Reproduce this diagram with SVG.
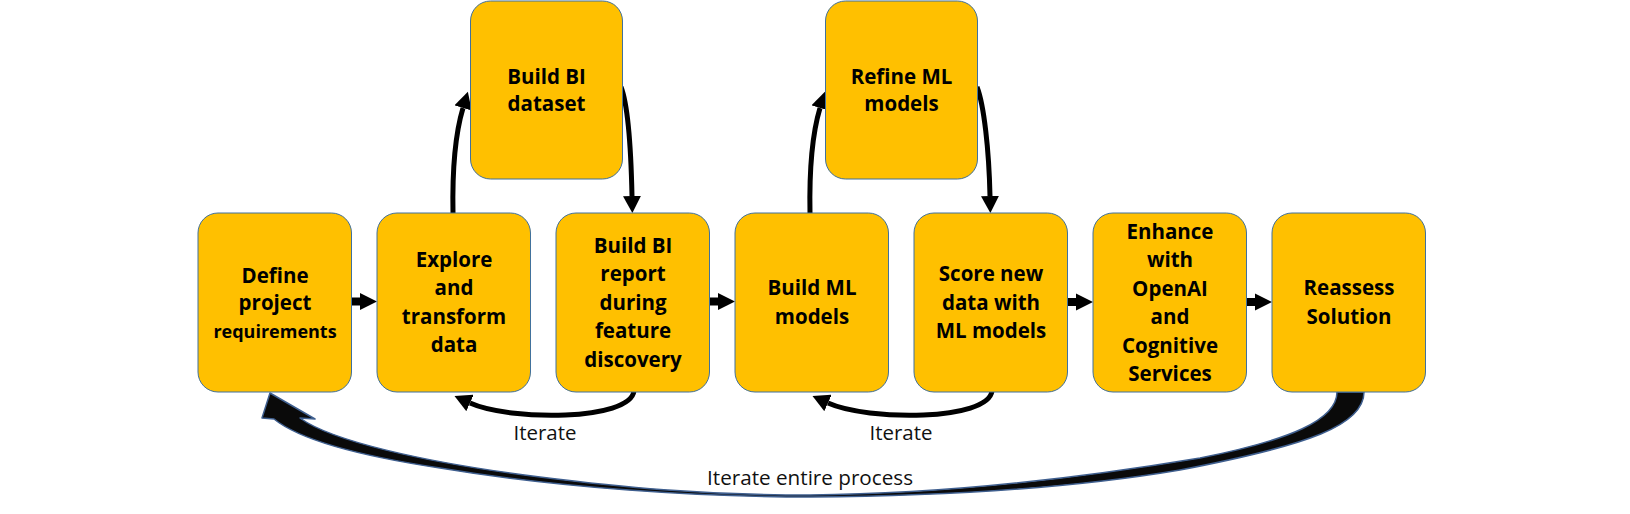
<svg xmlns="http://www.w3.org/2000/svg" width="1630" height="514" viewBox="0 0 1630 514">
<style>
.box{fill:#FFC000;stroke:#41719C;stroke-width:1}
.t{font-family:"Open Sans","Liberation Sans",sans-serif;font-weight:700;font-size:20.5px;fill:#000;text-anchor:middle}
.s{font-size:18px}
.lbl{font-family:"Open Sans","Liberation Sans",sans-serif;font-size:19.5px;fill:#111;text-anchor:middle}
.ln{fill:none;stroke:#000;stroke-width:5;marker-end:url(#ah)}
.ha{fill:#000}
.big{fill:#0a0a0a;stroke:#3F5F8F;stroke-width:1.5;stroke-linejoin:round}
</style>
<defs>
<marker id="ah" markerUnits="userSpaceOnUse" markerWidth="18" markerHeight="18" refX="0" refY="9" orient="auto" viewBox="0 0 18 18">
<path d="M0,0 L17,9 L0,18 Z" fill="#000"/>
</marker>
</defs>
<rect width="1630" height="514" fill="#fff"/>
<g id="connectors">
<path class="big" d="M1364,392 C1364,425 1310,445 1180,470 C1080,487 950,496 810,497 C700,497 560,488 440,468 C360,456 300,440 274,419 L262,418 L270,393 L315,419 L300,418 C330,440 420,462 540,477 C620,487 700,495 810,495 C950,494 1080,478 1200,458 C1290,440 1337,420 1337,392 Z"/>
<path class="ln" d="M453,213 C452,160 457,128 463,108"/>
<path class="ln" d="M621,87 C628,105 631,150 632,196"/>
<path class="ln" d="M810,213 C809,160 814,128 820,108"/>
<path class="ln" d="M977,87 C984,105 989,150 990,196"/>
<path class="ln" d="M634,391 C630,421 510,421 470,403"/>
<path class="ln" d="M992,391 C988,421 868,421 828,403"/>
<path class="ha" d="M351.5,297.5 L360,297.5 L360,293 L377,301.5 L360,310 L360,305.5 L351.5,305.5 Z"/>
<path class="ha" d="M709.5,297.5 L718,297.5 L718,293 L735,301.5 L718,310 L718,305.5 L709.5,305.5 Z"/>
<path class="ha" d="M1067.5,298 L1076,298 L1076,293.5 L1093,302 L1076,310.5 L1076,306 L1067.5,306 Z"/>
<path class="ha" d="M1246.5,298 L1255,298 L1255,293.5 L1272,302 L1255,310.5 L1255,306 L1246.5,306 Z"/>
<text class="lbl" x="545" y="439.5" textLength="63" lengthAdjust="spacingAndGlyphs">Iterate</text>
<text class="lbl" x="901" y="439.5" textLength="63" lengthAdjust="spacingAndGlyphs">Iterate</text>
<text class="lbl" x="810" y="484.5" textLength="206" lengthAdjust="spacingAndGlyphs">Iterate entire process</text>
</g>
<g id="n1">
<rect class="box" x="198" y="213" width="153.5" height="179" rx="20"/>
<text class="t" x="275" y="282.5">Define</text>
<text class="t" x="275" y="310">project</text>
<text class="t s" x="275" y="337.5">requirements</text>
</g>
<g id="n2">
<rect class="box" x="377" y="213" width="153.5" height="179" rx="20"/>
<text class="t" x="454" y="266.5">Explore</text>
<text class="t" x="454" y="295">and</text>
<text class="t" x="454" y="323.5">transform</text>
<text class="t" x="454" y="352">data</text>
</g>
<g id="n3">
<rect class="box" x="556" y="213" width="153.5" height="179" rx="20"/>
<text class="t" x="633" y="252.5">Build BI</text>
<text class="t" x="633" y="281">report</text>
<text class="t" x="633" y="309.5">during</text>
<text class="t" x="633" y="338">feature</text>
<text class="t" x="633" y="366.5">discovery</text>
</g>
<g id="n4">
<rect class="box" x="735" y="213" width="153.5" height="179" rx="20"/>
<text class="t" x="812" y="295">Build ML</text>
<text class="t" x="812" y="323.5">models</text>
</g>
<g id="n5">
<rect class="box" x="914" y="213" width="153.5" height="179" rx="20"/>
<text class="t" x="991" y="281">Score new</text>
<text class="t" x="991" y="309.5">data with</text>
<text class="t" x="991" y="338">ML models</text>
</g>
<g id="n6">
<rect class="box" x="1093" y="213" width="153.5" height="179" rx="20"/>
<text class="t" x="1170" y="238.5">Enhance</text>
<text class="t" x="1170" y="267">with</text>
<text class="t" x="1170" y="295.5">OpenAI</text>
<text class="t" x="1170" y="324">and</text>
<text class="t" x="1170" y="352.5">Cognitive</text>
<text class="t" x="1170" y="381">Services</text>
</g>
<g id="n7">
<rect class="box" x="1272" y="213" width="153.5" height="179" rx="20"/>
<text class="t" x="1349" y="295">Reassess</text>
<text class="t" x="1349" y="323.5">Solution</text>
</g>
<g id="n8">
<rect class="box" x="470.5" y="1" width="152" height="178" rx="20"/>
<text class="t" x="546.5" y="83.5">Build BI</text>
<text class="t" x="546.5" y="111">dataset</text>
</g>
<g id="n9">
<rect class="box" x="825.5" y="1" width="152" height="178" rx="20"/>
<text class="t" x="901.5" y="83.5">Refine ML</text>
<text class="t" x="901.5" y="111">models</text>
</g>
</svg>
